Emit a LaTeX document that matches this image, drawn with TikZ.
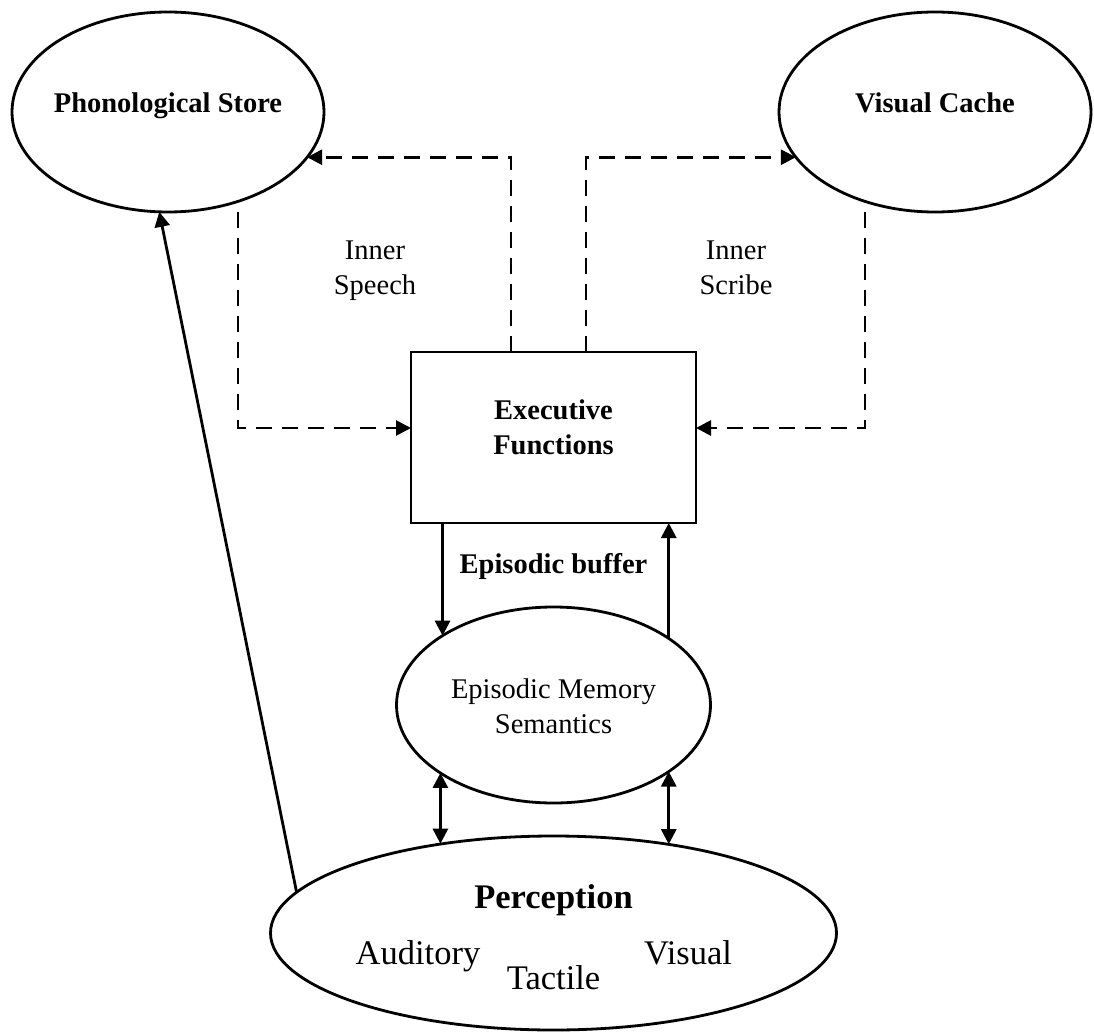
\documentclass[tikz,border=0pt]{standalone}
\usepackage{fontspec}
\setmainfont{Liberation Serif}
\usetikzlibrary{arrows.meta,shapes.geometric}
\begin{document}
\begin{tikzpicture}[x=1pt,y=-1pt,
  line width=2.8pt,
  tip/.tip={Triangle[length=15pt,width=15pt]},
  oval/.style={draw,ellipse,inner sep=0pt,outer sep=0pt},
  lbl/.style={inner sep=0pt,align=center,font=\fontsize{28.5}{35}\selectfont},
  blbl/.style={lbl,font=\fontsize{28.5}{35}\selectfont\bfseries},
  biglbl/.style={inner sep=0pt,align=center,font=\fontsize{34.5}{40}\selectfont},
  flow/.style={-tip},
  dflow/.style={-tip,dash pattern=on 16pt off 10pt},
  both/.style={tip-tip}]
\useasboundingbox (0,0) rectangle (1094,1032);

% components
\node[oval,minimum width=312pt,minimum height=200pt] (phono) at (168,112) {};
\node[oval,minimum width=312pt,minimum height=200pt] (vcache) at (935,112) {};
\node[draw,rectangle,minimum width=285pt,minimum height=171pt,inner sep=0pt,outer sep=0pt] (exec) at (553.5,437.5) {};
\node[oval,minimum width=314pt,minimum height=196pt] (epis) at (553.5,705) {};
\node[oval,minimum width=566pt,minimum height=194pt] (perc) at (553.5,933) {};

% labels
\node[blbl] (phonoT) at (168,106) {Phonological Store};
\node[blbl] (vcacheT) at (935,103) {Visual Cache};
\node[lbl] (speechT) at (375,271) {Inner\\Speech};
\node[lbl] (scribeT) at (736,268) {Inner\\Scribe};
\node[blbl] (execT) at (553.5,427) {Executive\\Functions};
\node[blbl] (bufferT) at (553.5,566) {Episodic buffer};
\node[lbl] (episT) at (553.5,706) {Episodic Memory\\Semantics};
\node[biglbl,font=\fontsize{34.5}{40}\selectfont\bfseries] (percT) at (553.5,900) {Perception};
\node[biglbl] (audT) at (418,956) {Auditory};
\node[biglbl] (tacT) at (553.5,978) {Tactile};
\node[biglbl] (visT) at (688,953) {Visual};

% inner speech / inner scribe loops
\draw[dflow] ([xshift=-42.5pt]exec.north) |- (phono.-18);
\draw[dflow] ([xshift=70pt]phono.south) |- ([yshift=9.5pt]exec.west);
\draw[dflow] ([xshift=32.5pt]exec.north) |- (vcache.198);
\draw[dflow] ([xshift=-70pt]vcache.south) |- ([yshift=9.5pt]exec.east);

% episodic buffer
\draw[flow] (exec.south -| epis.148.5) -- (epis.148.5);
\draw[flow] (epis.30.6) -- (epis.30.6 |- exec.south);

% perception links
\draw[both] (epis.211.5) -- (epis.211.5 |- perc.141.8);
\draw[both] (epis.-30.6) -- (epis.-30.6 |- perc.38.2);
\draw[flow] (perc.171.2) -- (phono.265.4);
\end{tikzpicture}
\end{document}
